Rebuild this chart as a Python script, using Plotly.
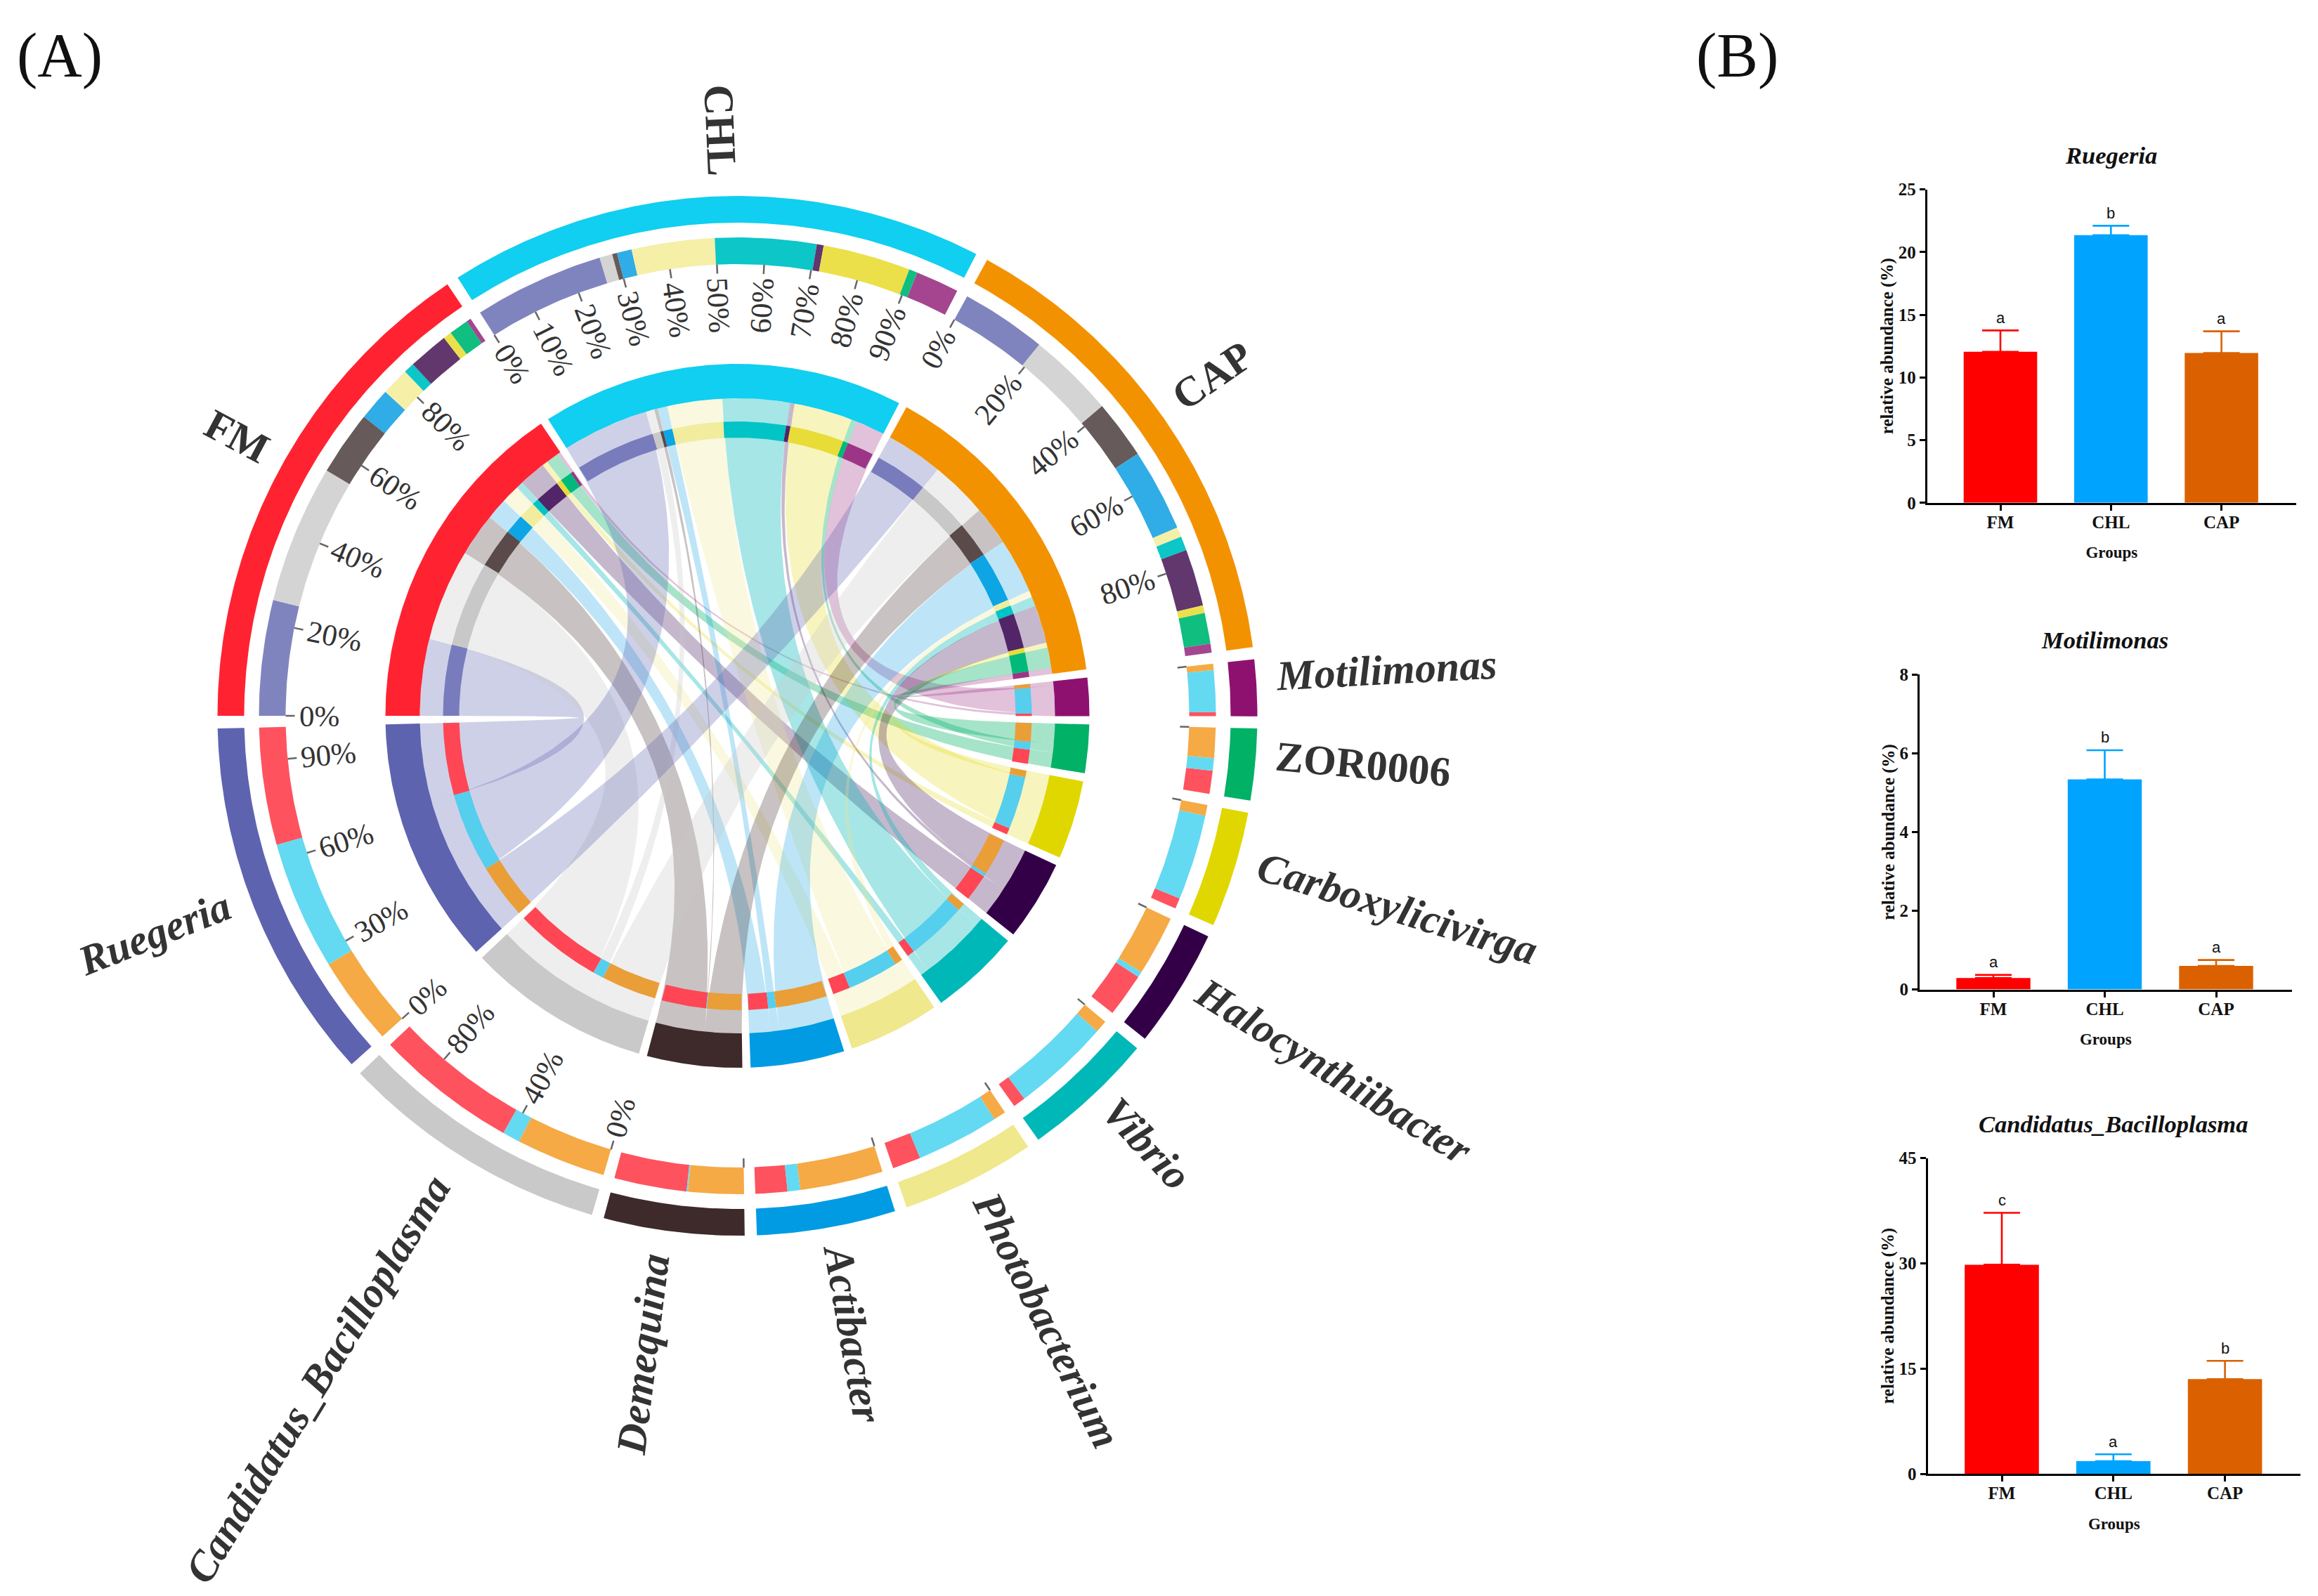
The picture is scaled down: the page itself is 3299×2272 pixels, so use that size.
import math
import plotly.graph_objects as go

W, H = 3299, 2272
CX, CY = 1049.5, 1019.0

# ---------- chord data ----------
samples = ["FM", "CHL", "CAP"]
genera = ["Motilimonas", "ZOR0006", "Carboxylicivirga", "Halocynthiibacter", "Vibrio",
          "Photobacterium", "Actibacter", "Demequina", "Candidatus_Bacilloplasma", "Ruegeria"]
sample_sizes = [56.1, 59.9, 53.7]
genus_sizes = [6.3, 8.0, 13.0, 13.3, 14.9, 15.0, 15.5, 15.7, 30.3, 40.7]
sample_order = ["Ruegeria", "Candidatus_Bacilloplasma", "Demequina", "Actibacter", "Photobacterium",
                "Vibrio", "Halocynthiibacter", "Carboxylicivirga", "ZOR0006", "Motilimonas"]
fm_shares = [25, 30, 14, 7, 6, 2.3, 8.7, 1.8, 4.2, 1]
chl_shares = [26.4, 2.6, 1, 3, 16.8, 20.5, 1.4, 17.8, 1.7, 8.8]
cap_shares = [19.4, 19.6, 13.3, 18.7, 2.2, 3.2, 12.9, 1.7, 7, 2]
# genus composition, clockwise: CAP, CHL, FM
motilimonas_shares = [12, 80, 8]
zor_shares = [46, 19, 35]
carboxy_shares = [10, 80, 10]
halo_shares = [55, 5, 40]
vibrio_shares = [10, 80, 10]
photo_shares = [10, 67, 23]
acti_shares = [65, 10, 25]
deme_shares = [43, 1, 56]
cand_shares = [36, 7, 57]
rueg_shares = [26.5, 38.5, 35]
genus_shares = [motilimonas_shares, zor_shares, carboxy_shares, halo_shares, vibrio_shares,
                photo_shares, acti_shares, deme_shares, cand_shares, rueg_shares]
sample_shares = [fm_shares, chl_shares, cap_shares]

sample_colors = ["#FF2332", "#10CFF0", "#F39200"]
sample_stack_outer = ["#FF525F", "#64D9F2", "#F5AA45"]
sample_stack_inner = ["#FF4655", "#56CEEE", "#EA9E38"]
genus_colors = {"Motilimonas": "#8E1170", "ZOR0006": "#00B166", "Carboxylicivirga": "#E0D700",
                "Halocynthiibacter": "#330048", "Vibrio": "#00B8B8", "Photobacterium": "#EFE88C",
                "Actibacter": "#009BE2", "Demequina": "#3E2A2A",
                "Candidatus_Bacilloplasma": "#C9C9C9", "Ruegeria": "#5E63B0"}
genus_outer = {"Motilimonas": "#A5458F", "ZOR0006": "#10BE80", "Carboxylicivirga": "#EBE04A",
               "Halocynthiibacter": "#61376E", "Vibrio": "#0CC6C8", "Photobacterium": "#F5EFA8",
               "Actibacter": "#30ACE6", "Demequina": "#665A5A",
               "Candidatus_Bacilloplasma": "#D4D4D4", "Ruegeria": "#8084BE"}
genus_inner = {"Motilimonas": "#9C3585", "ZOR0006": "#00B97A", "Carboxylicivirga": "#E8DC38",
               "Halocynthiibacter": "#522568", "Vibrio": "#00C4C6", "Photobacterium": "#F2EC9E",
               "Actibacter": "#0DA5E3", "Demequina": "#5A4A4A",
               "Candidatus_Bacilloplasma": "#C8C8C8", "Ruegeria": "#787CBC"}
ribbon_alpha = {"Motilimonas": 0.26, "ZOR0006": 0.35, "Carboxylicivirga": 0.26, "Halocynthiibacter": 0.28,
                "Vibrio": 0.35, "Photobacterium": 0.29, "Actibacter": 0.26, "Demequina": 0.285,
                "Candidatus_Bacilloplasma": 0.31, "Ruegeria": 0.30}

sample_ticks = [[0, 20, 40, 60, 80], [0, 10, 20, 30, 40, 50, 60, 70, 80, 90], [0, 20, 40, 60, 80]]
genus_ticks = [[0], [0], [0], [0], [0], [0], [0], [0], [0, 40, 80], [0, 30, 60, 90]]
genus_tick_labelled = [False] * 8 + [True, True]

label_r = {"FM": 816, "CHL": 834, "CAP": 831, "Motilimonas": 926, "ZOR0006": 893,
           "Carboxylicivirga": 978, "Halocynthiibacter": 988, "Vibrio": 843,
           "Photobacterium": 966, "Actibacter": 894, "Demequina": 918,
           "Candidatus_Bacilloplasma": 1117, "Ruegeria": 886}
label_theta = {"FM": 299.2, "CHL": 358.3, "CAP": 54.4, "Motilimonas": 86.0, "ZOR0006": 94.4,
               "Carboxylicivirga": 106.3, "Halocynthiibacter": 120.8, "Vibrio": 136.3,
               "Photobacterium": 152.9, "Actibacter": 169.4, "Demequina": 188.4,
               "Candidatus_Bacilloplasma": 212.3, "Ruegeria": 249.5}

GAP = 1.35
START = 270.0
R_G_OUT = (702, 740)
R_S_OUT = (643, 681)
R_G_IN = (452, 501)
R_S_IN = (396, 419)
R_LINK = 452

# ---------- bar data ----------
bar_groups = ["FM", "CHL", "CAP"]
bar_colors = ["#FF0000", "#00A4FF", "#DB6100"]
rueg_mean = [12.05, 21.35, 11.95]
rueg_err = [1.7, 0.75, 1.73]
rueg_sig = ["a", "b", "a"]
moti_mean = [0.29, 5.34, 0.6]
moti_err = [0.08, 0.74, 0.15]
moti_sig = ["a", "b", "a"]
cand_mean = [29.8, 1.8, 13.5]
cand_err = [7.4, 0.98, 2.6]
cand_sig = ["c", "a", "b"]

panels = [
    dict(title="Ruegeria", mean=rueg_mean, err=rueg_err, sig=rueg_sig, ymax=25, ticks=[0, 5, 10, 15, 20, 25],
         L=2742.7, R=3268, top=269.6, bot=715.8, c0=2847, s=157.3),
    dict(title="Motilimonas", mean=moti_mean, err=moti_err, sig=moti_sig, ymax=8, ticks=[0, 2, 4, 6, 8],
         L=2732, R=3261.6, top=960.4, bot=1408.6, c0=2837, s=158.5),
    dict(title="Candidatus_Bacilloplasma", mean=cand_mean, err=cand_err, sig=cand_sig, ymax=45, ticks=[0, 15, 30, 45],
         L=2743.6, R=3274, top=1648.6, bot=2098, c0=2849, s=158.8),
]


def pol(r, deg):
    t = math.radians(deg)
    return r * math.sin(t), r * math.cos(t)


def arc(r, a, b, n=None):
    n = n or max(2, int(abs(b - a) * 2) + 2)
    return [pol(r, a + (b - a) * i / (n - 1)) for i in range(n)]


def bez(p, q, n=70):
    return [((1 - t) ** 2 * p[0] + t ** 2 * q[0], (1 - t) ** 2 * p[1] + t ** 2 * q[1])
            for t in [i / (n - 1) for i in range(n)]]


def rgba(c, a):
    v = [int(c[i:i + 2], 16) for i in (1, 3, 5)]
    return "rgba(%d,%d,%d,%.3f)" % (v[0], v[1], v[2], a)


fig = go.Figure()


def poly(pts, color, name):
    fig.add_trace(go.Scatter(x=[p[0] for p in pts] + [pts[0][0]], y=[p[1] for p in pts] + [pts[0][1]],
                             mode="lines", fill="toself", fillcolor=color, line=dict(width=0),
                             hoverinfo="skip", showlegend=False, name=name, xaxis="x", yaxis="y"))


def band(rr, a, b, color, name):
    poly(arc(rr[1], a, b) + arc(rr[0], b, a), color, name)


# sector layout
sectors = []
ang = START
for name, size in zip(samples + genera, sample_sizes + genus_sizes):
    sectors.append((name, ang, ang + size))
    ang += size + GAP
span = {n: (a, b) for n, a, b in sectors}

# segments of each sector
seg = {}
for s, shares in zip(samples, sample_shares):
    a, b = span[s]
    cum = 0
    for g, v in zip(sample_order, shares):
        seg[(s, g)] = (a + (b - a) * cum / 100, a + (b - a) * (cum + v) / 100)
        cum += v
for g, shares in zip(genera, genus_shares):
    a, b = span[g]
    cum = 0
    for s, v in zip(["CAP", "CHL", "FM"], shares):
        seg[(g, s)] = (a + (b - a) * cum / 100, a + (b - a) * (cum + v) / 100)
        cum += v

# ribbons
for s in samples:
    for g in sample_order:
        a1, a2 = seg[(s, g)]
        b1, b2 = seg[(g, s)]
        pts = arc(R_LINK, a1, a2) + bez(pol(R_LINK, a2), pol(R_LINK, b1)) + arc(R_LINK, b1, b2) + \
            bez(pol(R_LINK, b2), pol(R_LINK, a1))
        poly(pts, rgba(genus_colors[g], ribbon_alpha[g]), f"{s}-{g}")

# stacked rings
for si, s in enumerate(samples):
    for g in sample_order:
        a, b = seg[(s, g)]
        band(R_S_OUT, a, b, genus_outer[g], f"{s} {g} share")
        band(R_S_IN, a, b, genus_inner[g], f"{s} {g} share")
for g in genera:
    for s in samples:
        si = samples.index(s)
        a, b = seg[(g, s)]
        band(R_S_OUT, a, b, sample_stack_outer[si], f"{g} {s} share")
        band(R_S_IN, a, b, sample_stack_inner[si], f"{g} {s} share")

# group rings
for name, a, b in sectors:
    c = sample_colors[samples.index(name)] if name in samples else genus_colors[name]
    band(R_G_OUT, a, b, c, name)
    band(R_G_IN, a, b, c, name)

# ticks and tick labels on the outer stacked ring
annotations = []
tx, ty = [], []
tick_font = dict(family="Liberation Serif", size=43, color="#333333")
for names, ticks, lab in [(samples, sample_ticks, [True] * 3), (genera, genus_ticks, genus_tick_labelled)]:
    for n, tk, show in zip(names, ticks, lab):
        a, b = span[n]
        for t in tk:
            th = a + (b - a) * t / 100
            p, q = pol(R_S_OUT[0], th), pol(R_S_OUT[0] - 13, th)
            tx += [p[0], q[0], None]
            ty += [p[1], q[1], None]
            if show:
                txt = f"{t}%"
                w = (0.5 * len(str(t)) + 0.833) * 43
                x, y = pol(R_S_OUT[0] - 19 - w / 2, th)
                th_n = th % 360
                rot = th_n - 270 if th_n >= 180 else th_n - 90
                annotations.append(dict(x=x, y=y, xref="x", yref="y", text=txt, showarrow=False,
                                        textangle=rot, font=tick_font, xanchor="center", yanchor="middle"))
fig.add_trace(go.Scatter(x=tx, y=ty, mode="lines", line=dict(color="#666666", width=2.5),
                         hoverinfo="skip", showlegend=False, name="ticks", xaxis="x", yaxis="y"))

# sector labels
for name, a, b in sectors:
    th = ((a + b) / 2) % 360
    rot = th - 270 if th >= 180 else th - 90
    x, y = pol(label_r[name], label_theta[name])
    plain = name in samples or name == "ZOR0006"
    annotations.append(dict(x=x, y=y, xref="x", yref="y", text=name, showarrow=False, textangle=rot,
                            xanchor="center", yanchor="middle",
                            font=dict(family="Liberation Serif", size=60, color="#333333", weight="bold",
                                      style="normal" if plain else "italic")))

# panel letters
for txt, px, py in [("(A)", 85, 78), ("(B)", 2472, 78)]:
    annotations.append(dict(x=px / W, y=1 - py / H, xref="paper", yref="paper", text=txt, showarrow=False,
                            xanchor="center", yanchor="middle",
                            font=dict(family="Liberation Serif", size=88, color="#111111")))

layout = dict(
    width=W, height=H, margin=dict(l=0, r=0, t=0, b=0, autoexpand=False), paper_bgcolor="white",
    plot_bgcolor="rgba(0,0,0,0)", showlegend=False, barmode="overlay", hovermode=False,
    xaxis=dict(domain=[0, 1], range=[-CX, W - CX], visible=False, fixedrange=True),
    yaxis=dict(domain=[0, 1], range=[-(H - CY), CY], visible=False, fixedrange=True),
)

# bar panels
tfont = dict(family="Liberation Serif", size=25, color="#111111", weight="bold")
for i, p in enumerate(panels):
    xa, ya = f"x{i + 2}", f"y{i + 2}"
    for g, m, e, c in zip(bar_groups, p["mean"], p["err"], bar_colors):
        fig.add_trace(go.Bar(x=[g], y=[m], width=0.665, marker=dict(color=c, line=dict(width=0)), name=g,
                             error_y=dict(type="data", symmetric=False, array=[e], arrayminus=[0],
                                          color=c, thickness=2.6, width=26),
                             xaxis=xa, yaxis=ya, showlegend=False, hoverinfo="skip"))
    layout[f"xaxis{i + 2}"] = dict(
        domain=[p["L"] / W, p["R"] / W], anchor=ya, type="category", automargin=False,
        categoryorder="array", categoryarray=bar_groups, ticklabelstandoff=-5,
        range=[(p["L"] - p["c0"]) / p["s"], (p["R"] - p["c0"]) / p["s"]],
        showline=True, linecolor="black", linewidth=3, ticks="outside", ticklen=8, tickwidth=3, tickcolor="black",
        showgrid=False, zeroline=False, tickfont=tfont, fixedrange=True,
        title=dict(text="Groups", standoff=23,
                   font=dict(family="Liberation Serif", size=23, color="#111111", weight="bold")))
    layout[f"yaxis{i + 2}"] = dict(
        domain=[1 - p["bot"] / H, 1 - p["top"] / H], anchor=xa, range=[0, p["ymax"]], automargin=False,
        tickvals=p["ticks"], showline=True, linecolor="black", linewidth=3, ticks="outside", ticklen=8,
        tickwidth=3, tickcolor="black", showgrid=False, zeroline=False, tickfont=tfont, fixedrange=True,
        title=dict(text="relative abundance (%)", standoff=0,
                   font=dict(family="Liberation Serif", size=25, color="#111111", weight="bold")))
    for g, m, e, sg in zip(bar_groups, p["mean"], p["err"], p["sig"]):
        annotations.append(dict(x=g, y=m + e, xref=xa, yref=ya, text=sg, showarrow=False, yshift=18,
                                xanchor="center", yanchor="middle",
                                font=dict(family="Liberation Sans", size=22, color="#111111")))
    annotations.append(dict(x="CHL", y=1, xref=xa, yref=f"{ya} domain", text=p["title"], showarrow=False,
                            yshift=49, xanchor="center", yanchor="middle",
                            font=dict(family="Liberation Serif", size=34.5, color="#111111",
                                      weight="bold", style="italic")))

layout["annotations"] = annotations
fig.update_layout(**layout)
fig.write_html("out.html", config=dict(displayModeBar=False),
               post_script="document.body.style.margin='0';")
